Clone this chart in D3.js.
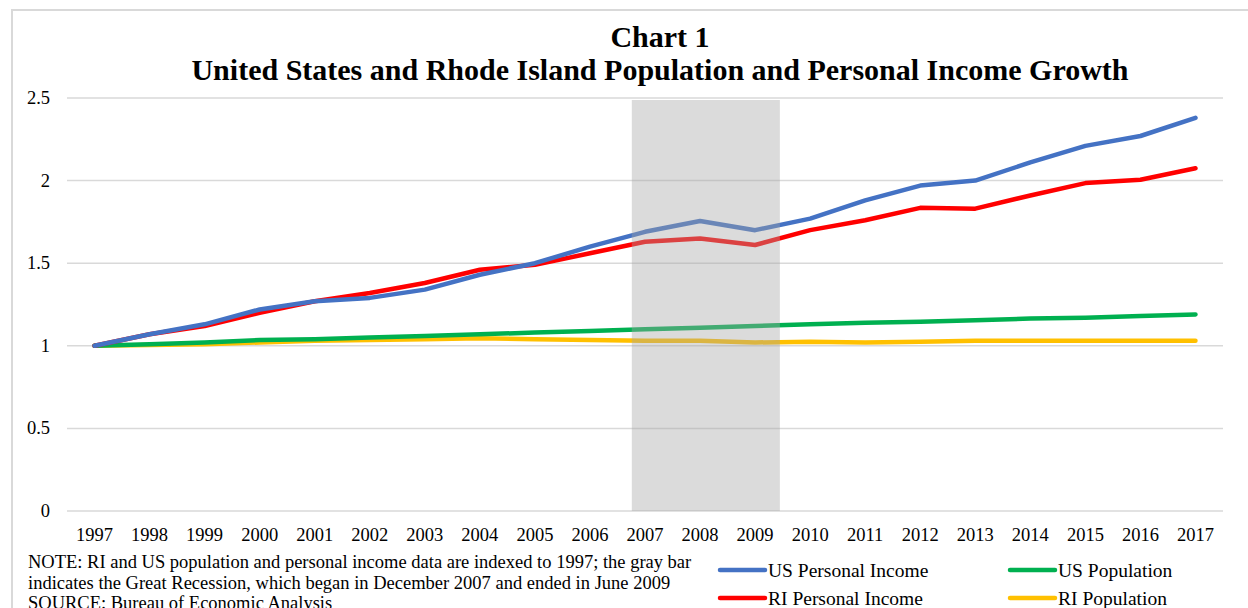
<!DOCTYPE html>
<html>
<head>
<meta charset="utf-8">
<script src="https://cdn.jsdelivr.net/npm/d3@7"></script>
<style>
	body { margin: 0; background: #fff; }
	svg text { font-family: "Liberation Serif", "Times New Roman", serif; fill: #000; }
</style>
</head>
<body>
<svg width="1248" height="608"></svg>
<script>
// Chart 1 - US and RI population and personal income, indexed to 1997

var years = ['1997','1998','1999','2000','2001','2002','2003','2004','2005','2006','2007',
	'2008','2009','2010','2011','2012','2013','2014','2015','2016','2017']

var usIncome = [1.00,1.07,1.13,1.22,1.27,1.29,1.34,1.43,1.50,1.60,1.69,
	1.755,1.70,1.77,1.88,1.97,2.00,2.11,2.21,2.27,2.38]
var riIncome = [1.00,1.07,1.12,1.20,1.27,1.32,1.38,1.46,1.49,1.56,1.63,
	1.65,1.61,1.70,1.76,1.835,1.83,1.91,1.985,2.005,2.075]
var usPop = [1.00,1.01,1.02,1.035,1.04,1.05,1.06,1.07,1.08,1.09,1.10,
	1.11,1.12,1.13,1.14,1.145,1.155,1.165,1.17,1.18,1.19]
var riPop = [1.00,1.005,1.01,1.02,1.03,1.035,1.04,1.045,1.04,1.035,1.03,
	1.03,1.02,1.025,1.02,1.025,1.03,1.03,1.03,1.03,1.03]

var yTicks = [0, 0.5, 1, 1.5, 2, 2.5]
var tickLabels = ['0', '0.5', '1', '1.5', '2', '2.5']

// recession: December 2007 to June 2009 (in year units)
var recession = [2007 - 0.24, 2009 + 0.45]

var series = [
	{name: 'US Personal Income', values: usIncome, color: '#4472c4'},
	{name: 'RI Personal Income', values: riIncome, color: '#ff0000'},
	{name: 'US Population', values: usPop, color: '#00b050'},
	{name: 'RI Population', values: riPop, color: '#ffc000'}
]

var noteLines = [
	'NOTE: RI and US population and personal income data are indexed to 1997; the gray bar',
	'indicates the Great Recession, which began in December 2007 and ended in June 2009',
	'SOURCE: Bureau of Economic Analysis'
]

var svg = d3.select('svg')

// outer frame
svg.append('rect')
	.attr('x', 12).attr('y', 10)
	.attr('width', 1260).attr('height', 640)
	.attr('fill', 'none')
	.attr('stroke', '#d9d9d9')
	.attr('stroke-width', 2)

svg.append('text')
	.attr('x', 660).attr('y', 47)
	.attr('text-anchor', 'middle')
	.style('font-size', '30px').style('font-weight', 'bold')
	.text('Chart 1')
svg.append('text')
	.attr('x', 660).attr('y', 80)
	.attr('text-anchor', 'middle')
	.style('font-size', '30px').style('font-weight', 'bold')
	.text('United States and Rhode Island Population and Personal Income Growth')

var x = d3.scaleBand().domain(years).range([67, 1223])
var y = d3.scaleLinear().domain([0, 2.5]).range([511, 98])

var xc = function(i) { return x(years[i]) + x.bandwidth() / 2 }
// continuous year position for the recession bar
var xYear = function(yr) { return x(years[0]) + (yr - 1997 + 0.5) * x.bandwidth() }

// gridlines
svg.append('g')
	.selectAll('line')
	.data(yTicks)
	.enter()
	.append('line')
	.attr('x1', 67).attr('x2', 1223)
	.attr('y1', function(d) { return y(d) }).attr('y2', function(d) { return y(d) })
	.attr('stroke', '#d9d9d9')
	.attr('stroke-width', 1.5)

// y labels
svg.append('g')
	.selectAll('text')
	.data(yTicks)
	.enter()
	.append('text')
	.attr('x', 50)
	.attr('y', function(d) { return y(d) + 6 })
	.attr('text-anchor', 'end')
	.style('font-size', '18.5px')
	.text(function(d, i) { return tickLabels[i] })

// x labels
svg.append('g')
	.selectAll('text')
	.data(years)
	.enter()
	.append('text')
	.attr('x', function(d, i) { return xc(i) })
	.attr('y', 541)
	.attr('text-anchor', 'middle')
	.style('font-size', '18.5px')
	.text(function(d) { return d })

var line = d3.line()
	.x(function(d, i) { return xc(i) })
	.y(function(d) { return y(d) })

svg.append('g')
	.selectAll('path')
	.data(series.slice().reverse())
	.enter()
	.append('path')
	.attr('d', function(d) { return line(d.values) })
	.attr('fill', 'none')
	.attr('stroke', function(d) { return d.color })
	.attr('stroke-width', 4.5)
	.attr('stroke-linejoin', 'round')
	.attr('stroke-linecap', 'round')

// recession bar, drawn over the lines
svg.append('rect')
	.attr('x', xYear(recession[0]))
	.attr('y', 100)
	.attr('width', xYear(recession[1]) - xYear(recession[0]))
	.attr('height', y(0) - 100)
	.attr('fill', '#a6a6a6')
	.attr('opacity', 0.4)

// note (last line runs off the bottom, as in the original)
svg.append('g')
	.selectAll('text')
	.data(noteLines)
	.enter()
	.append('text')
	.attr('x', 28)
	.attr('y', function(d, i) { return 568 + i * 20.5 })
	.style('font-size', '18.5px')
	.text(function(d) { return d })

// legend
var legendPos = [[720, 570], [720, 598], [1010, 570], [1010, 598]]
var legend = svg.append('g')
	.selectAll('g')
	.data(series)
	.enter()
	.append('g')
	.attr('transform', function(d, i) { return 'translate(' + legendPos[i][0] + ',' + legendPos[i][1] + ')' })

legend.append('line')
	.attr('x1', 0).attr('x2', 45)
	.attr('stroke', function(d) { return d.color })
	.attr('stroke-width', 4.5)
	.attr('stroke-linecap', 'round')
legend.append('text')
	.attr('x', 48).attr('y', 6.5)
	.style('font-size', '19.5px')
	.text(function(d) { return d.name })
</script>
</body>
</html>
